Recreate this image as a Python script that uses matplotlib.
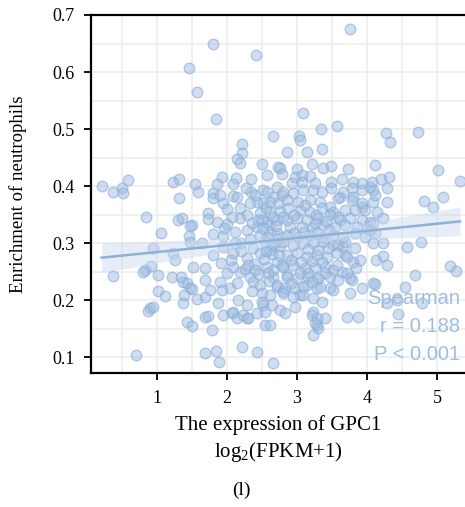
import numpy as np
import matplotlib
matplotlib.use('Agg')
import matplotlib.pyplot as plt
from matplotlib.ticker import MultipleLocator

plt.rcParams['font.family'] = 'Liberation Serif'
plt.rcParams['mathtext.fontset'] = 'custom'
plt.rcParams['mathtext.rm'] = 'Liberation Serif'

# GPC1 expression (log2 FPKM+1) vs neutrophil enrichment
upper = [(1.80, 0.649), (2.41, 0.630), (1.46, 0.607), (1.57, 0.565), (3.76, 0.675),
         (3.09, 0.528), (1.84, 0.518), (2.66, 0.488), (2.21, 0.474), (2.21, 0.458),
         (2.14, 0.447), (2.19, 0.440), (2.50, 0.439), (2.73, 0.433), (3.03, 0.488),
         (3.34, 0.500), (3.57, 0.505), (4.27, 0.493), (4.33, 0.477), (4.73, 0.495),
         (2.86, 0.460), (3.14, 0.460), (3.36, 0.465), (2.76, 0.432), (2.79, 0.421),
         (3.00, 0.430), (3.21, 0.439), (3.37, 0.432), (3.49, 0.435), (3.73, 0.430),
         (4.11, 0.437), (3.04, 0.481), (2.97, 0.416)]

left = [(0.21, 0.400), (0.37, 0.389), (0.50, 0.396), (0.51, 0.388), (0.59, 0.411),
        (1.23, 0.407), (1.31, 0.412), (1.54, 0.404), (1.59, 0.389), (1.31, 0.379),
        (0.84, 0.346), (1.30, 0.340), (1.50, 0.332), (1.36, 0.344), (0.37, 0.242),
        (0.70, 0.104), (1.06, 0.318), (0.94, 0.291), (0.83, 0.253), (0.80, 0.249),
        (0.91, 0.260), (1.01, 0.244), (1.23, 0.282), (1.26, 0.270), (1.21, 0.240),
        (1.34, 0.240), (1.37, 0.232), (1.43, 0.230), (1.47, 0.221), (1.01, 0.216),
        (1.11, 0.207), (0.90, 0.186), (0.87, 0.181), (0.94, 0.188), (1.37, 0.195),
        (1.39, 0.209), (1.57, 0.202), (1.43, 0.161), (1.51, 0.258), (1.46, 0.312),
        (1.47, 0.330), (1.50, 0.154), (1.50, 0.219), (1.47, 0.302), (1.64, 0.300)]

core_left = [(1.86, 0.404), (1.93, 0.416), (2.13, 0.414), (2.34, 0.412), (2.57, 0.419),
             (1.80, 0.388), (1.80, 0.379), (1.94, 0.370), (2.09, 0.382), (2.14, 0.381),
             (2.34, 0.389), (2.51, 0.393), (1.73, 0.353), (2.19, 0.361), (2.71, 0.398),
             (1.90, 0.384), (2.43, 0.372), (2.57, 0.389), (2.33, 0.370), (2.51, 0.370),
             (1.73, 0.342), (1.86, 0.337), (2.00, 0.333), (2.19, 0.344), (2.29, 0.349),
             (2.47, 0.353), (2.61, 0.354), (2.43, 0.328), (2.57, 0.337), (2.71, 0.340),
             (2.11, 0.319), (2.29, 0.323), (1.94, 0.312), (1.80, 0.316), (2.61, 0.319),
             (2.71, 0.318), (2.57, 0.311), (1.69, 0.256), (1.69, 0.235), (1.69, 0.205),
             (1.76, 0.218), (1.93, 0.218), (2.04, 0.221), (2.14, 0.230), (1.90, 0.232),
             (2.00, 0.247), (2.19, 0.249), (2.09, 0.258), (2.33, 0.240), (2.37, 0.232),
             (2.47, 0.226), (2.50, 0.212), (2.61, 0.209), (2.71, 0.223), (2.66, 0.240),
             (2.57, 0.258), (2.71, 0.267), (2.29, 0.274), (2.09, 0.282), (1.94, 0.293),
             (1.80, 0.279), (2.37, 0.291), (2.47, 0.282), (2.61, 0.288), (2.54, 0.302),
             (2.66, 0.253), (2.71, 0.226), (2.80, 0.216), (2.86, 0.244), (2.83, 0.221),
             (2.20, 0.300), (2.33, 0.307), (2.47, 0.314), (2.20, 0.286), (2.40, 0.263),
             (2.53, 0.272), (2.64, 0.280), (2.75, 0.295), (2.72, 0.307), (2.60, 0.331),
             (2.50, 0.340), (2.66, 0.346), (2.76, 0.356), (2.73, 0.370), (2.66, 0.380),
             (2.40, 0.384), (2.27, 0.396), (2.09, 0.404), (2.00, 0.360), (2.07, 0.346),
             (1.95, 0.326), (2.12, 0.300), (2.05, 0.270), (1.92, 0.265), (2.26, 0.255),
             (2.35, 0.215), (2.45, 0.245), (2.60, 0.234), (2.68, 0.300), (2.85, 0.340),
             (2.55, 0.362), (2.62, 0.372), (2.78, 0.384), (2.44, 0.341), (2.52, 0.326),
             (2.36, 0.336), (2.70, 0.330), (2.79, 0.310), (2.64, 0.296), (2.55, 0.286),
             (2.74, 0.279), (2.78, 0.262), (2.58, 0.247), (2.40, 0.252), (2.30, 0.262)]

core_right = [(3.07, 0.419), (2.93, 0.405), (3.19, 0.418), (3.49, 0.407), (3.64, 0.412),
              (3.80, 0.407), (3.93, 0.393), (4.04, 0.398), (3.79, 0.396), (3.61, 0.381),
              (3.80, 0.381), (3.23, 0.393), (3.49, 0.396), (3.93, 0.363), (3.07, 0.407),
              (3.26, 0.405), (3.93, 0.405), (4.07, 0.407), (4.09, 0.393), (3.66, 0.389),
              (3.36, 0.389), (3.09, 0.393), (2.94, 0.388), (2.80, 0.389), (3.59, 0.379),
              (3.79, 0.375), (3.93, 0.370), (4.09, 0.372), (3.47, 0.363), (3.33, 0.372),
              (3.19, 0.375), (3.01, 0.372), (2.86, 0.375),
              (2.87, 0.361), (3.04, 0.358), (3.19, 0.354), (3.36, 0.361), (3.51, 0.354),
              (3.69, 0.358), (3.83, 0.358), (3.97, 0.358), (4.14, 0.354),
              (2.80, 0.346), (3.00, 0.344), (3.14, 0.340), (3.30, 0.344), (3.47, 0.349),
              (3.61, 0.340), (3.76, 0.344), (3.93, 0.340), (4.04, 0.337),
              (2.90, 0.328), (3.07, 0.328), (3.21, 0.326), (3.37, 0.332), (3.54, 0.328),
              (3.69, 0.332), (3.86, 0.328), (4.00, 0.326),
              (2.86, 0.314), (3.01, 0.311), (3.19, 0.314), (3.36, 0.311), (3.51, 0.314),
              (3.66, 0.311), (3.83, 0.318), (3.97, 0.311), (4.11, 0.318),
              (2.80, 0.302), (2.94, 0.296), (3.09, 0.300), (3.23, 0.300), (3.37, 0.302),
              (3.51, 0.296), (3.66, 0.293), (3.83, 0.291), (3.59, 0.296), (3.69, 0.302),
              (2.86, 0.279), (3.00, 0.282), (3.14, 0.275), (3.29, 0.279), (3.43, 0.275),
              (3.57, 0.282), (3.69, 0.279),
              (2.80, 0.258), (2.94, 0.261), (3.11, 0.256), (3.26, 0.258), (3.40, 0.258),
              (3.51, 0.253), (3.64, 0.249),
              (2.86, 0.240), (3.00, 0.239), (3.16, 0.240), (3.30, 0.239), (3.47, 0.240),
              (3.59, 0.235), (3.79, 0.235),
              (2.97, 0.221), (3.14, 0.226), (3.29, 0.221), (3.09, 0.223), (3.33, 0.223),
              (3.47, 0.221), (3.51, 0.218), (3.04, 0.209),
              (2.80, 0.212), (2.94, 0.205), (3.09, 0.209), (3.23, 0.204), (3.36, 0.196),
              (3.90, 0.270), (3.80, 0.267), (3.71, 0.275), (3.84, 0.256), (3.76, 0.239),
              (3.71, 0.247), (3.57, 0.261), (3.40, 0.247), (3.30, 0.239), (3.04, 0.247),
              (4.23, 0.344), (4.09, 0.335), (4.04, 0.323),
              (2.95, 0.350), (3.12, 0.366), (3.27, 0.350), (3.42, 0.338), (3.25, 0.336),
              (3.10, 0.320), (2.95, 0.318), (3.28, 0.318), (3.45, 0.322), (3.16, 0.290),
              (3.30, 0.288), (2.92, 0.270), (3.06, 0.266), (3.22, 0.268), (3.36, 0.266),
              (3.15, 0.248), (2.92, 0.230), (3.22, 0.231), (3.44, 0.292), (3.58, 0.345)]

right = [(4.20, 0.412), (4.31, 0.416), (4.29, 0.396), (5.01, 0.428), (5.33, 0.409),
         (4.11, 0.384), (4.29, 0.372), (4.81, 0.374), (4.94, 0.363), (5.09, 0.381),
         (4.57, 0.293), (4.77, 0.302), (4.09, 0.300), (4.23, 0.300), (4.13, 0.270),
         (4.23, 0.277), (4.29, 0.261), (5.19, 0.260), (5.27, 0.251), (4.69, 0.244),
         (4.11, 0.228), (4.54, 0.223), (4.29, 0.195), (4.79, 0.195), (4.44, 0.175),
         (4.09, 0.230), (3.93, 0.221), (3.76, 0.212), (4.43, 0.200)]

lower = [(1.69, 0.170), (1.73, 0.172), (1.79, 0.147), (1.69, 0.107), (1.84, 0.111),
         (1.89, 0.091), (2.21, 0.118), (2.43, 0.109), (2.66, 0.090), (2.54, 0.156),
         (1.87, 0.195), (1.94, 0.174), (2.09, 0.179), (2.29, 0.168), (2.43, 0.177),
         (2.51, 0.191), (2.64, 0.191), (2.07, 0.177), (2.14, 0.168), (2.23, 0.174),
         (2.30, 0.168), (2.29, 0.191), (2.50, 0.196), (2.54, 0.179), (2.16, 0.200),
         (3.71, 0.170), (3.87, 0.170), (3.23, 0.179), (3.21, 0.174), (3.40, 0.168),
         (3.29, 0.156), (3.30, 0.151), (3.23, 0.139), (2.76, 0.182), (2.83, 0.177),
         (2.97, 0.188), (2.61, 0.156), (3.29, 0.168), (3.26, 0.160)]

stat_lines = ['Spearman', 'r = 0.188', 'P < 0.001']
xticks = [1, 2, 3, 4, 5]
yticks = [0.1, 0.2, 0.3, 0.4, 0.5, 0.6, 0.7]

pts = np.array(upper + left + core_left + core_right + right + lower)
x, y = pts[:, 0], pts[:, 1]

fig = plt.figure(figsize=(4.65, 5.07), dpi=100)
ax = fig.add_axes([91 / 465, 134 / 507, 374 / 465, 358 / 507])

ax.scatter(x, y, s=58, facecolor=(0.62, 0.74, 0.88, 0.5),
           edgecolor=(0.55, 0.68, 0.85, 0.6), linewidth=1.0, zorder=3)

# linear fit with 95% band
b, a = np.polyfit(x, y, 1)
xs = np.linspace(x.min(), x.max(), 100)
fit = a + b * xs
res = y - (a + b * x)
n = len(x)
s = np.sqrt(np.sum(res ** 2) / (n - 2))
se = s * np.sqrt(1 / n + (xs - x.mean()) ** 2 / np.sum((x - x.mean()) ** 2))
ax.fill_between(xs, fit - 1.96 * se, fit + 1.96 * se, color='#c9d9ee', alpha=0.45,
                lw=0, zorder=4)
ax.plot(xs, fit, color='#8db0db', lw=1.8, zorder=5)

ax.set_xlim(0.057, 5.4)
ax.set_ylim(0.072, 0.7)
ax.set_xticks(xticks)
ax.set_yticks(yticks)
ax.set_yticklabels([f'{v:.1f}' for v in yticks])
ax.xaxis.set_minor_locator(MultipleLocator(0.5))
ax.yaxis.set_minor_locator(MultipleLocator(0.05))
ax.grid(True, which='both', color='#ededed', lw=1.2, zorder=0)
ax.set_axisbelow(True)
ax.tick_params(which='major', length=5, width=1.3, labelsize=13, color='black')
ax.tick_params(axis='y', pad=7)
ax.tick_params(axis='x', pad=7)
ax.tick_params(which='minor', length=0)
for side in ['left', 'bottom', 'top']:
    ax.spines[side].set_linewidth(1.6)
    ax.spines[side].set_color('black')
ax.spines['right'].set_visible(False)

ax.set_ylabel('Enrichment of neutrophils', fontsize=13.5, labelpad=18)
ax.set_xlabel('The expression of GPC1\nlog$_2$(FPKM+1)', fontsize=15, labelpad=6,
              linespacing=1.3)

for i, t in enumerate(stat_lines):
    ax.text(0.987, 0.207 - i * 0.078, t, transform=ax.transAxes, ha='right',
            va='center', fontsize=14.5, color='#9ebde2', family='Liberation Sans',
            zorder=6)

fig.text(241 / 465, 1 - 490 / 507, '(l)', ha='center', va='center', fontsize=14)

fig.savefig('out.png', dpi=100)
